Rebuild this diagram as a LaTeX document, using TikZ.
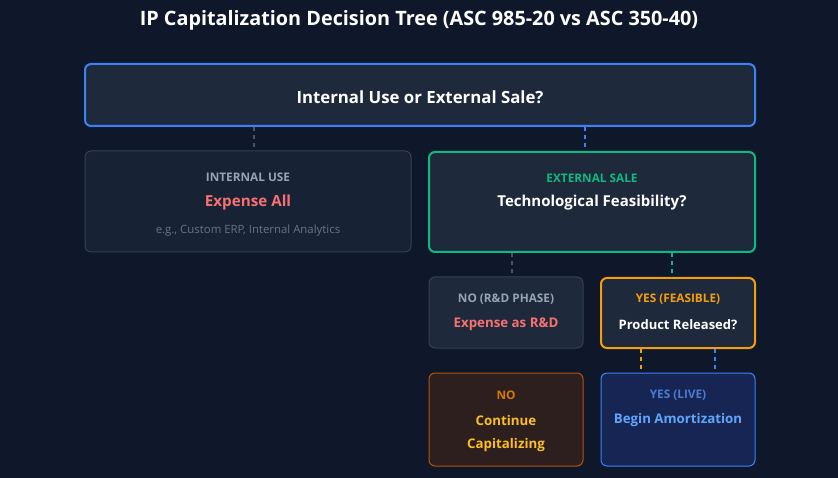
\documentclass[tikz,border=0pt]{standalone}
\usepackage{fontspec}
\setmainfont{Open Sans}
\usetikzlibrary{calc}
\definecolor{bg}{HTML}{0F172A}
\definecolor{boxfill}{HTML}{1E293B}
\definecolor{dimfill}{HTML}{182235}
\definecolor{gborder}{HTML}{334155}
\definecolor{gline}{HTML}{475569}
\definecolor{blueb}{HTML}{3B82F6}
\definecolor{greenb}{HTML}{10B981}
\definecolor{amber}{HTML}{F59E0B}
\definecolor{redt}{HTML}{F87171}
\definecolor{grayt}{HTML}{94A3B8}
\definecolor{dimt}{HTML}{64748B}
\definecolor{brownfill}{HTML}{2E1F1F}
\definecolor{brownb}{HTML}{B45309}
\definecolor{darkamber}{HTML}{D97706}
\definecolor{yellowt}{HTML}{FBBF24}
\definecolor{navyfill}{HTML}{172554}
\definecolor{bluet}{HTML}{60A5FA}
\definecolor{bluedim}{HTML}{4A7BD0}
\tikzset{
  x=1pt,y=1pt,
  box/.style={rectangle,rounded corners=6pt,inner sep=0pt},
  thick2/.style={line width=2pt},
  thin1/.style={line width=1pt},
  conn/.style={line width=2pt,dash pattern=on 4pt off 4pt},
  small/.style={font=\fontsize{11.8}{13}\selectfont\bfseries},
  mid/.style={font=\fontsize{15.2}{17}\selectfont\bfseries},
  sub/.style={font=\fontsize{13.3}{15}\selectfont\bfseries},
  tiny/.style={font=\fontsize{11.4}{13}\selectfont},
}
\begin{document}
\begin{tikzpicture}
\fill[bg] (0,0) rectangle (838,-478);
\useasboundingbox (0,0) rectangle (838,-478);
\node[font=\fontsize{19.8}{22}\selectfont\bfseries,text=white] (title) at (419,-20) {IP Capitalization Decision Tree (ASC 985-20 vs ASC 350-40)};

\node[box,draw=blueb,fill=boxfill,thick2,minimum width=670pt,minimum height=62pt] (top) at (420,-95) {};
\node[font=\fontsize{16.8}{19}\selectfont\bfseries,text=white] (toptxt) at ([yshift=-2pt]top.center) {Internal Use or External Sale?};

\node[box,draw=gborder,fill=dimfill,thin1,minimum width=326pt,minimum height=101pt] (intl) at (248,-201.5) {};
\node[small,text=grayt] (intl1) at ([yshift=-27pt]intl.north) {INTERNAL USE};
\node[mid,text=redt] (intl2) at ([yshift=-52pt]intl.north) {Expense All};
\node[tiny,text=dimt] (intl3) at ([yshift=-80pt]intl.north) {e.g., Custom ERP, Internal Analytics};

\node[box,draw=greenb,fill=boxfill,thick2,minimum width=326pt,minimum height=100pt] (ext) at (592,-202) {};
\node[small,text=greenb] (ext1) at ([yshift=-27pt]ext.north) {EXTERNAL SALE};
\node[mid,text=white,font=\fontsize{15}{17}\selectfont\bfseries] (ext2) at ([yshift=-52pt]ext.north) {Technological Feasibility?};

\node[box,draw=gborder,fill=boxfill,thin1,minimum width=154pt,minimum height=71pt] (nord) at (506,-312.5) {};
\node[small,text=grayt] (nord1) at ([yshift=-22.5pt]nord.north) {NO (R\&D PHASE)};
\node[sub,text=redt] (nord2) at ([yshift=-48pt]nord.north) {Expense as R\&D};

\node[box,draw=amber,fill=boxfill,thick2,minimum width=154pt,minimum height=70pt] (yesf) at (678,-313) {};
\node[small,text=amber] (yesf1) at ([yshift=-22.5pt]yesf.north) {YES (FEASIBLE)};
\node[sub,text=white,font=\fontsize{13}{15}\selectfont\bfseries] (yesf2) at ([yshift=-48pt]yesf.north) {Product Released?};

\node[box,draw=brownb,fill=brownfill,thin1,minimum width=154pt,minimum height=93pt] (cont) at (506,-419.5) {};
\node[small,text=darkamber] (cont1) at ([yshift=-22.5pt]cont.north) {NO};
\node[sub,text=yellowt] (cont2) at ([yshift=-48pt]cont.north) {Continue};
\node[sub,text=yellowt] (cont3) at ([yshift=-72.5pt]cont.north) {Capitalizing};

\node[box,draw=blueb,fill=navyfill,thin1,minimum width=154pt,minimum height=93pt] (live) at (678,-419.5) {};
\node[small,text=bluedim] (live1) at ([yshift=-22.5pt]live.north) {YES (LIVE)};
\node[sub,text=bluet] (live2) at ([yshift=-48pt]live.north) {Begin Amortization};

\draw[conn,gline] ([xshift=6pt]intl.north |- top.south) -- ([xshift=6pt]intl.north);
\draw[conn,blueb] ([xshift=-7pt]ext.north |- top.south) -- ([xshift=-7pt]ext.north);
\draw[conn,gline] ([xshift=6pt]nord.north |- ext.south) -- ([xshift=6pt]nord.north);
\draw[conn,greenb] ([xshift=-6pt]yesf.north |- ext.south) -- ([xshift=-6pt]yesf.north);
\draw[conn,amber] ([xshift=-37pt]yesf.south) -- ([xshift=-37pt]live.north);
\draw[conn,blueb] ([xshift=37pt]yesf.south) -- ([xshift=37pt]live.north);
\end{tikzpicture}
\end{document}
